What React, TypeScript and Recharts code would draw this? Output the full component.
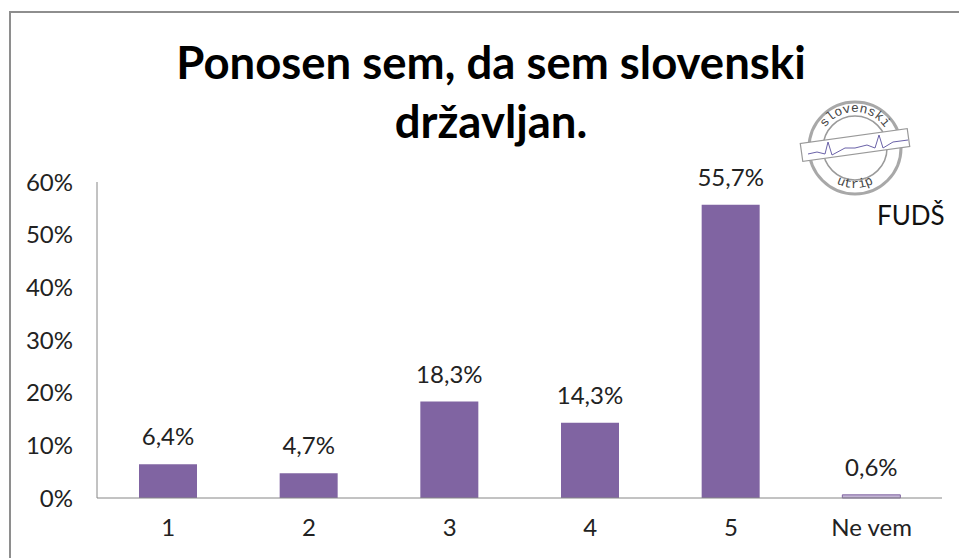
import React from "react";
import { BarChart, Bar, XAxis, YAxis, LabelList, Cell } from "recharts";

const categories = ["1", "2", "3", "4", "5", "Ne vem"];
const shares = [6.4, 4.7, 18.3, 14.3, 55.7, 0.6];
const yTicks = [0, 10, 20, 30, 40, 50, 60];

const chartData = categories.map((name, i) => ({ name, share: shares[i] }));
const FONT = "Lato, 'Open Sans', sans-serif";
const pct = (v: any) => `${String(v).replace(".", ",")}%`;

function Logo() {
  return (
    <svg width={120} height={110} viewBox="0 0 120 110" style={{ position: "absolute", left: 799, top: 95 }}>
      <circle cx={56} cy={53} r={46} fill="#fff" stroke="#a8a8a8" strokeWidth={3} />
      <circle cx={56} cy={53} r={32} fill="none" stroke="#9a9a9a" strokeWidth={1.5} />
      <path id="arcTop" d="M 20 53 A 36 36 0 0 1 92 53" fill="none" />
      <path id="arcBot" d="M 16 53 A 40 40 0 0 0 96 53" fill="none" />
      <text fontFamily="'Liberation Mono', monospace" fontSize={13} fill="#444">
        <textPath href="#arcTop" startOffset="50%" textAnchor="middle">slovenski</textPath>
      </text>
      <text fontFamily="'Liberation Mono', monospace" fontSize={13} fill="#444">
        <textPath href="#arcBot" startOffset="50%" textAnchor="middle">utrip</textPath>
      </text>
      <rect x={2} y={41} width={108} height={18} fill="#fff" stroke="#999" strokeWidth={1.2} transform="rotate(-8 56 50)" />
      <path
        d="M9 59 L18 57 L26 59 L29 47 L33 60 L46 53 L56 53 L68 50 L76 53 L80 40 L84 53 L94 47 L109 45"
        fill="none"
        stroke="#6a62a8"
        strokeWidth={1}
      />
    </svg>
  );
}

export default function App() {
  return (
    <div style={{ position: "absolute", left: 0, top: 0, width: 959, height: 558, background: "#fff", overflow: "hidden", fontFamily: FONT }}>
      <div style={{ position: "absolute", left: 9, top: 11, width: 960, height: 560, border: "2px solid #8e8e8e", boxSizing: "border-box" }} />
      <div style={{ position: "absolute", left: 0, top: 32, width: 982, textAlign: "center", fontSize: 45.5, lineHeight: "59px", fontWeight: 700, color: "#000" }}>
        Ponosen sem, da sem slovenski
        <br />
        državljan.
      </div>
      <BarChart
        width={959}
        height={558}
        data={chartData}
        margin={{ top: 182, right: 17, bottom: 0, left: 17 }}
        style={{ position: "absolute", left: 0, top: 0 }}
      >
        <XAxis
          dataKey="name"
          axisLine={{ stroke: "#868686" }}
          tickLine={false}
          tick={{ fontSize: 24, fill: "#222", fontFamily: FONT }}
          tickMargin={15}
          interval={0}
          height={60}
          padding={{ left: 1, right: 0 }}
        />
        <YAxis
          domain={[0, 60]}
          ticks={yTicks}
          tickFormatter={(v) => `${v}%`}
          axisLine={{ stroke: "#868686" }}
          tickLine={false}
          tick={{ fontSize: 24, fill: "#222", fontFamily: FONT }}
          tickMargin={18}
          width={80}
        />
        <Bar dataKey="share" fill="#8064a2" barSize={58} isAnimationActive={false}>
          {chartData.map((d) => (
            <Cell
              key={d.name}
              fill={d.name === "Ne vem" ? "#c4b5d6" : "#8064a2"}
              stroke={d.name === "Ne vem" ? "#8064a2" : "none"}
            />
          ))}
          <LabelList
            dataKey="share"
            position="top"
            offset={19}
            formatter={pct}
            style={{ fontSize: 24, fill: "#222", fontFamily: FONT }}
          />
        </Bar>
      </BarChart>
      <Logo />
      <div style={{ position: "absolute", left: 877, top: 199, fontSize: 26, color: "#111" }}>FUDŠ</div>
    </div>
  );
}
